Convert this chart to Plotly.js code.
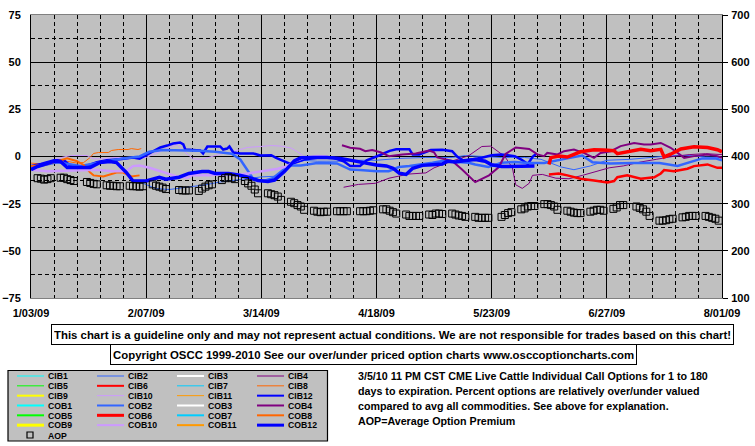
<!DOCTYPE html>
<html><head><meta charset="utf-8">
<script src="https://cdn.plot.ly/plotly-3.0.1.min.js"></script>
<style>html,body{margin:0;padding:0;background:#fff;}#chart{width:755px;height:446px;}</style>
</head><body><div id="chart"></div>
<script>
// ---- data: x values are days after 1/03/09, y values in percent (AOP on right axis) ----
const xTickLabels = ['1/03/09','2/07/09','3/14/09','4/18/09','5/23/09','6/27/09','8/01/09'];

const cib2Day = [33,38,42,47,53,57.5,61.5,66,70,74,77,80,83,87,94,100,105,112,120,128,132,137,143,150,155,161,165,170,175,182,188,195,200,205,210];
const cib2Val = [-13.5,-17,-17.5,-16.4,-15,-13.5,-12.7,-11.5,-10.8,-10.5,-7,-3.4,-2.1,-2.5,-2.5,-2,-2,-1,-0.5,-0.5,0.5,0,-0.5,-0.5,-1.5,-5.5,-7,-5,-2,-1.5,-0.5,0.5,0.5,-0.3,-0.5];

const cob2Day = [0,8,15,22,28,33,36,40,46,51,56,61,63.6,65.7,67.6,70.7,73.7,76.7,78.8,82,87,93,97,100,105,108.7,111.8,115,119,122,125,129,133,135,137,139,143,147,151,156,163,167.5,170.6,176,183,191,196.5,200,204,208,210];
const cob2Val = [-6,-3,-5,-3,-1,0,2.5,3.5,3.3,3,2.5,1.5,-1.6,-7,-12,-13,-11.3,-7,-4.8,-4.8,-3.4,-3.7,-6.9,-7.2,-7.8,-7.8,-5.6,-5,-4.2,-3.3,-2.4,-2.7,-3.3,-4.2,-5.1,-5.6,-3.3,-2.9,-3.4,-3.4,-1,0.5,-3,-3.7,-3.4,-3.4,-5,-3,-1,-1,-2];

const cib4Day = [95,99.5,104.7,108.8,114.8,120,122.5,128,133,137,139.7,141.7,144,146.3,147.3,149.3,151.4,152.4,155.4,159.5,163.5,167.6,171.6,175.7,180,185,190,195,200,205,210];
const cib4Val = [-16.3,-14.8,-14.2,-11.5,-9.3,-8.7,-6,-2.4,0.4,5.3,5.5,2.8,0,-6,-15,-16.9,-14.2,-10,-9.5,-11.5,-11.8,-10,-8,-6,-5,-3,-1.5,0,1,1.5,1];

const cob4Day = [94.5,97,100,101.6,103.7,106.2,108.8,112.8,116.9,121,122.5,123.5,128,131,135,139.2,142.2,144.2,147.3,151.4,153.9,155.9,156.9,160,162,165,168,171.1,173.1,176.2,179.2,183.3,186.3,188.3,191.4,194.4,196.5,198.5,201.5,205.6,208.6,210];
const cob4Val = [6,4.6,4.1,2.8,3.4,2.3,0.2,1.1,1.6,3.1,2.2,-0.5,-2.4,-6.9,-13.6,-10,-5.6,1.3,4.8,4,1.1,0.2,1.9,1.1,2.8,3.7,1.9,-0.7,1.9,2.8,5.5,7.2,6.4,6.4,7.2,4.6,1.9,-0.7,0.2,1.1,0.2,-0.7];

const cib6Day = [157.4,160.4,163,167,171.1,175.2,177.2,178.2,181.2,185.3,189.4,191.4,192.4,195.4,199.5,201.5,205.6,208.6,210];
const cib6Val = [-9.5,-9,-10,-11.8,-12.7,-13.8,-13,-11,-10,-11.8,-11,-9,-7.2,-7.8,-6.5,-5.1,-4.2,-6,-6];

const cob6Day = [157.4,158,160.4,163,167,171.1,174.1,177.2,178.2,181.2,185.3,188.3,191.4,192.4,194.4,197.5,201.5,205.6,208.6,210];
const cob6Val = [-4.2,-0.6,0.3,-0.3,2.5,3.6,3.4,3.1,1.5,2.5,3.8,3.1,3.8,-0.2,1.2,4,5.2,4.8,3.6,2.5];

const cib8Day = [0,4.5,9,11,14,16,18,19,20.5,23.5,24.5,26.5,29.5,30.5,32.5,33.5];
const cib8Val = [-3.5,-4.2,-1.6,-2.6,-3.5,-3.2,-0.5,1.6,2.1,2.1,3.2,3.7,3.7,4.2,3.7,4.2];

const cob8Day = [0,4,8,11,14,16,18,19,22,24,26,28,30.5,33];
const cob8Val = [-5,-4.5,-2.5,-1,-2.5,-4.5,-8.5,-10,-10.6,-9.5,-8.5,-8.5,-10.6,-10];

const cib10Day = [0,4,8,12,17,19,22,25,30,33,35,38,41,44.4,46.9,49.3,52,55,58,61.5,65.7,69.7,73,76,79,81,83,86];
const cib10Val = [-6,-4,-1,0.5,0.5,-1.2,-1.2,-0.5,-0.5,-1,-0.5,1.6,4,6.4,2.1,-1.2,-1.5,0,1.5,2.6,4.8,5.3,5.8,5.5,4.5,2.5,0,-0.5];

const cob10Day = [0,5,10,15,20,25,29,31,33,36,41,44,47.5,49,54,57,64,67,71,75,78,80,83,87,90];
const cob10Val = [-7,-7.8,-7.5,-7.3,-7,-7.8,-7.8,-5.1,-4.8,-6,-8.6,-10.4,-11.3,-10,-10,-9.5,-9.5,-8.7,-7.8,-6.5,-5.1,-2.5,-0.7,0.2,0];

const cib12Day = [0,3,7,10,12,16,20,23,27,31,33,37,39.3,41.4,43.2,45.3,46.3,46.9,51.4,52.3,53.6,57.5,58.4,59.6,60.3,61.5,63.6,67.6,69.7,73,74.5,79,83,87,92,95,97,100,102,105,109,111,115,116,118,121.5,125,128,129.5,131.5,134,137,140,143,147,149,151,152.5,153.5];
const cib12Val = [-5,-4,-2,-2,-5,-5.5,-3,-2,-1.5,-0.5,-1.1,2.6,4.8,5.8,6.9,7.4,6.4,3.7,3.2,1.6,5.3,5.3,3.7,4.2,5.3,2.1,1.6,1.6,0.5,0.7,-0.7,-4,-1.6,-0.7,-0.7,-2.5,-5,-5,-2,0,3,3.8,3.8,1,1,3.4,3.6,2.8,0,-2.3,-1.6,-0.7,0.7,1.1,0.2,-1.6,-4,0,1.3];

const cob12Day = [0,2,7,9,11,18,21,24,26,29,31,35,39,41,45,48,52,54,56,60,63,66,69,72,74,77,80,82,86,90,94,97,100,105,108,110,112,114,116,119,122,125,126.5,129,131.5,135,138,140,143,149,153];
const cob12Val = [-7,-5.3,-2.6,-2.6,-5.8,-5.8,-3.2,-2.6,-3.2,-8.5,-13,-13,-11,-12,-11,-9,-8,-8,-9,-9,-9.8,-11,-12.7,-13.2,-12.5,-8,-2.3,-0.7,-0.5,-0.5,-1,-2,-3,-4.5,-5,-6.2,-8.9,-9.5,-6.2,-4.7,-4.4,-4,-2.5,-2.9,-2.2,-1.6,-2.5,-4.4,-5.3,-5.3,-5.1];

// Average option premium (right axis), trading days
const aopDay = [2,3,4,5,6, 9,10,11,12,13, 17,18,19,20, 23,24,25,26,27, 30,31,32,33,34, 37,38,39,40,41, 45,46,47,48, 51,52,53,54,55, 58,59,60,61,62, 65,66,67,68,69, 72,73,74,75,76, 79,80,81,82,83, 86,87,88,89,90, 93,94,95,96, 100,101,102,103,104, 107,108,109,110,111, 114,115,116,117,118, 121,122,123,124,125, 128,129,130,131,132, 135,136,137,138,139, 143,144,145,146, 149,150,151,152,153, 156,157,158,159,160, 163,164,165,166,167, 170,171,172,173,174, 177,178,179,180, 184,185,186,187,188, 191,192,193,194,195, 198,199,200,201,202, 205,206,207,208,209];
const aopVal = [354,353,351,352,354, 355,355,352,350,348, 346,344,342,341, 339,338,338,337,337, 338,337,337,336,337, 341,338,336,334,331, 329,328,328,328, 327,332,336,339,341, 350,354,356,354,352, 348,343,338,330,322, 322,320,318,315,308, 304,301,297,294,287, 285,283,282,283,283, 284,284,284,284, 284,284,284,285,286, 288,288,285,282,279, 277,274,274,274,274, 277,276,279,279,278, 279,277,275,274,272, 272,270,270,270,270, 272,276,280,282, 288,290,294,295,295, 299,299,297,294,287, 285,283,281,280,280, 283,285,287,287,285, 289,292,297,297, 294,291,288,283,274, 264,264,265,267,268, 271,272,274,274,274, 274,272,270,268,264];

// legend entries (4 columns, row-major)
const legendNames = ['CIB1','CIB2','CIB3','CIB4','CIB5','CIB6','CIB7','CIB8','CIB9','CIB10','CIB11','CIB12',
                     'COB1','COB2','COB3','COB4','COB5','COB6','COB7','COB8','COB9','COB10','COB11','COB12'];
const legendColors = ['#00FFFF','#3366FF','#FFFFFF','#800080','#00FF00','#FF0000','#00CCFF','#FF6600','#FFFF00','#CC99FF','#FF9900','#0000FF',
                      '#00FFFF','#3366FF','#FFFFFF','#800080','#00FF00','#FF0000','#00CCFF','#FF6600','#FFFF00','#CC99FF','#FF9900','#0000FF'];
const legendWidths = [1,1,2,1,1,2,1,1,2,1,1,2, 2,2,2,2,2,3,2,2,3,2,2,3];

// ---- build ----
const BASE = Date.UTC(2009,0,3), DAY = 86400000;
function toDates(days){ return days.map(d => new Date(BASE + d*DAY).toISOString().slice(0,19).replace('T',' ')); }
function line(name, days, vals, color, width){
  return {type:'scatter', mode:'lines', name, x: toDates(days), y: vals,
          line:{color, width}, showlegend:false, hoverinfo:'skip'};
}
const traces = [
  line('CIB2', cib2Day, cib2Val, '#3366FF', 1),
  line('CIB4', cib4Day, cib4Val, '#800080', 1),
  line('CIB6', cib6Day, cib6Val, '#FF0000', 2.5),
  line('CIB8', cib8Day, cib8Val, '#FF6600', 1),
  line('CIB10', cib10Day, cib10Val, '#CC99FF', 1),
  line('CIB12', cib12Day, cib12Val, '#0000FF', 2.5),
  line('COB2', cob2Day, cob2Val, '#3366FF', 2.5),
  line('COB4', cob4Day, cob4Val, '#800080', 2),
  line('COB6', cob6Day, cob6Val, '#FF0000', 3.5),
  line('COB8', cob8Day, cob8Val, '#FF6600', 2),
  line('COB10', cob10Day, cob10Val, '#CC99FF', 2.5),
  line('COB12', cob12Day, cob12Val, '#0000FF', 3.5),
  {type:'scatter', mode:'markers', name:'AOP', x: toDates(aopDay), y: aopVal, yaxis:'y2',
   marker:{symbol:'square-open', size:7, color:'#000', line:{width:1, color:'#000'}},
   showlegend:false, hoverinfo:'skip'}
];

const FONT = 'Liberation Sans, Arial, sans-serif';
const px2x = p => (p - 31) / 691;
const py2y = p => (298 - p) / 283;

const shapes = [];
const annotations = [];
const legendFont = {family:FONT, size:8.7, color:'#000', weight:'bold'};

// legend box
shapes.push({type:'rect', xref:'paper', yref:'paper', x0:px2x(8), x1:px2x(327.5), y0:py2y(441), y1:py2y(370.5),
             fillcolor:'#C0C0C0', line:{color:'#000', width:1.2}, layer:'above'});
legendNames.forEach((n,i)=>{
  const row = Math.floor(i/4), col = i%4;
  const yy = 376 + 9.83*row;
  shapes.push({type:'line', xref:'paper', yref:'paper', x0:px2x(17+80*col), x1:px2x(44+80*col), y0:py2y(yy), y1:py2y(yy),
               line:{color:legendColors[i], width:legendWidths[i]}, layer:'above'});
  annotations.push({xref:'paper', yref:'paper', x:px2x(46.5+80*col), y:py2y(yy+0.3), xanchor:'left', yanchor:'middle',
                    text:n, showarrow:false, borderpad:0, font:legendFont});
});
// AOP legend marker
shapes.push({type:'rect', xref:'paper', yref:'paper', x0:px2x(27), x1:px2x(33), y0:py2y(438), y1:py2y(432),
             line:{color:'#000', width:1.2}, fillcolor:'rgba(0,0,0,0)', layer:'above'});
annotations.push({xref:'paper', yref:'paper', x:px2x(46.5), y:py2y(435.5), xanchor:'left', yanchor:'middle',
                  text:'AOP', showarrow:false, borderpad:0, font:legendFont});

// disclaimer boxes
annotations.push({xref:'paper', yref:'paper', x:px2x(392.5), y:py2y(334.5), xanchor:'center', yanchor:'middle',
  text:'This chart is a guideline only and may not represent actual conditions. We are not responsible for trades based on this chart!',
  showarrow:false, bgcolor:'#FFFFFF', bordercolor:'#000', borderwidth:1, borderpad:2, height:15,
  font:{family:FONT, size:11.4, color:'#000', weight:'bold'}});
annotations.push({xref:'paper', yref:'paper', x:px2x(373), y:py2y(354.5), xanchor:'center', yanchor:'middle',
  text:'Copyright OSCC 1999-2010 See our over/under priced option charts www.osccoptioncharts.com',
  showarrow:false, bgcolor:'#FFFFFF', bordercolor:'#000', borderwidth:1, borderpad:2, height:15,
  font:{family:FONT, size:11.4, color:'#000', weight:'bold'}});

// description text
const descLines = ['3/5/10 11 PM CST CME Live Cattle Individual Call Options for 1 to 180',
                   'days to expiration. Percent options are relatively over/under valued',
                   'compared to avg all commodities. See above for explanation.',
                   'AOP=Average Option Premium'];
descLines.forEach((t,i)=>{
  annotations.push({xref:'paper', yref:'paper', x:px2x(356.5), y:py2y(376+15*i), xanchor:'left', yanchor:'middle',
                    text:t, showarrow:false, borderpad:0,
                    font:{family:FONT, size:10.7, color:'#000', weight:'bold'}});
});

const tickFont = {family:FONT, size:11, color:'#000', weight:'bold'};
const layout = {
  width:755, height:446,
  margin:{l:31, r:33, t:15, b:148, pad:0},
  paper_bgcolor:'#FFFFFF', plot_bgcolor:'#C0C0C0',
  showlegend:false,
  xaxis:{type:'date', range:['2009-01-03','2009-08-01'],
         tickmode:'array', tickvals:toDates([0,35,70,105,140,175,210]), ticktext:xTickLabels,
         showgrid:true, gridcolor:'#000', gridwidth:1,
         minor:{tick0:'2009-01-03', dtick:7*DAY, showgrid:true, gridcolor:'#000', gridwidth:1, griddash:'4px,3px'},
         showline:true, linecolor:'#808080', linewidth:1, mirror:true, ticks:'', zeroline:false,
         tickfont:tickFont, ticklabelstandoff:5, fixedrange:true},
  yaxis:{range:[-75,75], tick0:0, dtick:25, showgrid:true, gridcolor:'#000', gridwidth:1,
         minor:{tick0:0, dtick:12.5, showgrid:true, gridcolor:'#000', gridwidth:1, griddash:'4px,3px'},
         showline:true, linecolor:'#000', linewidth:1, ticks:'', zeroline:false,
         tickfont:tickFont, ticklabelstandoff:7, fixedrange:true},
  yaxis2:{overlaying:'y', side:'right', range:[100,700], tick0:100, dtick:100, showgrid:false, zeroline:false,
          showline:true, linecolor:'#000', linewidth:1, ticks:'outside', ticklen:5, tickcolor:'#000', tickwidth:1,
          tickfont:tickFont, ticklabelstandoff:1, fixedrange:true},
  shapes, annotations
};
Plotly.newPlot('chart', traces, layout, {displayModeBar:false, staticPlot:true});
</script></body></html>
